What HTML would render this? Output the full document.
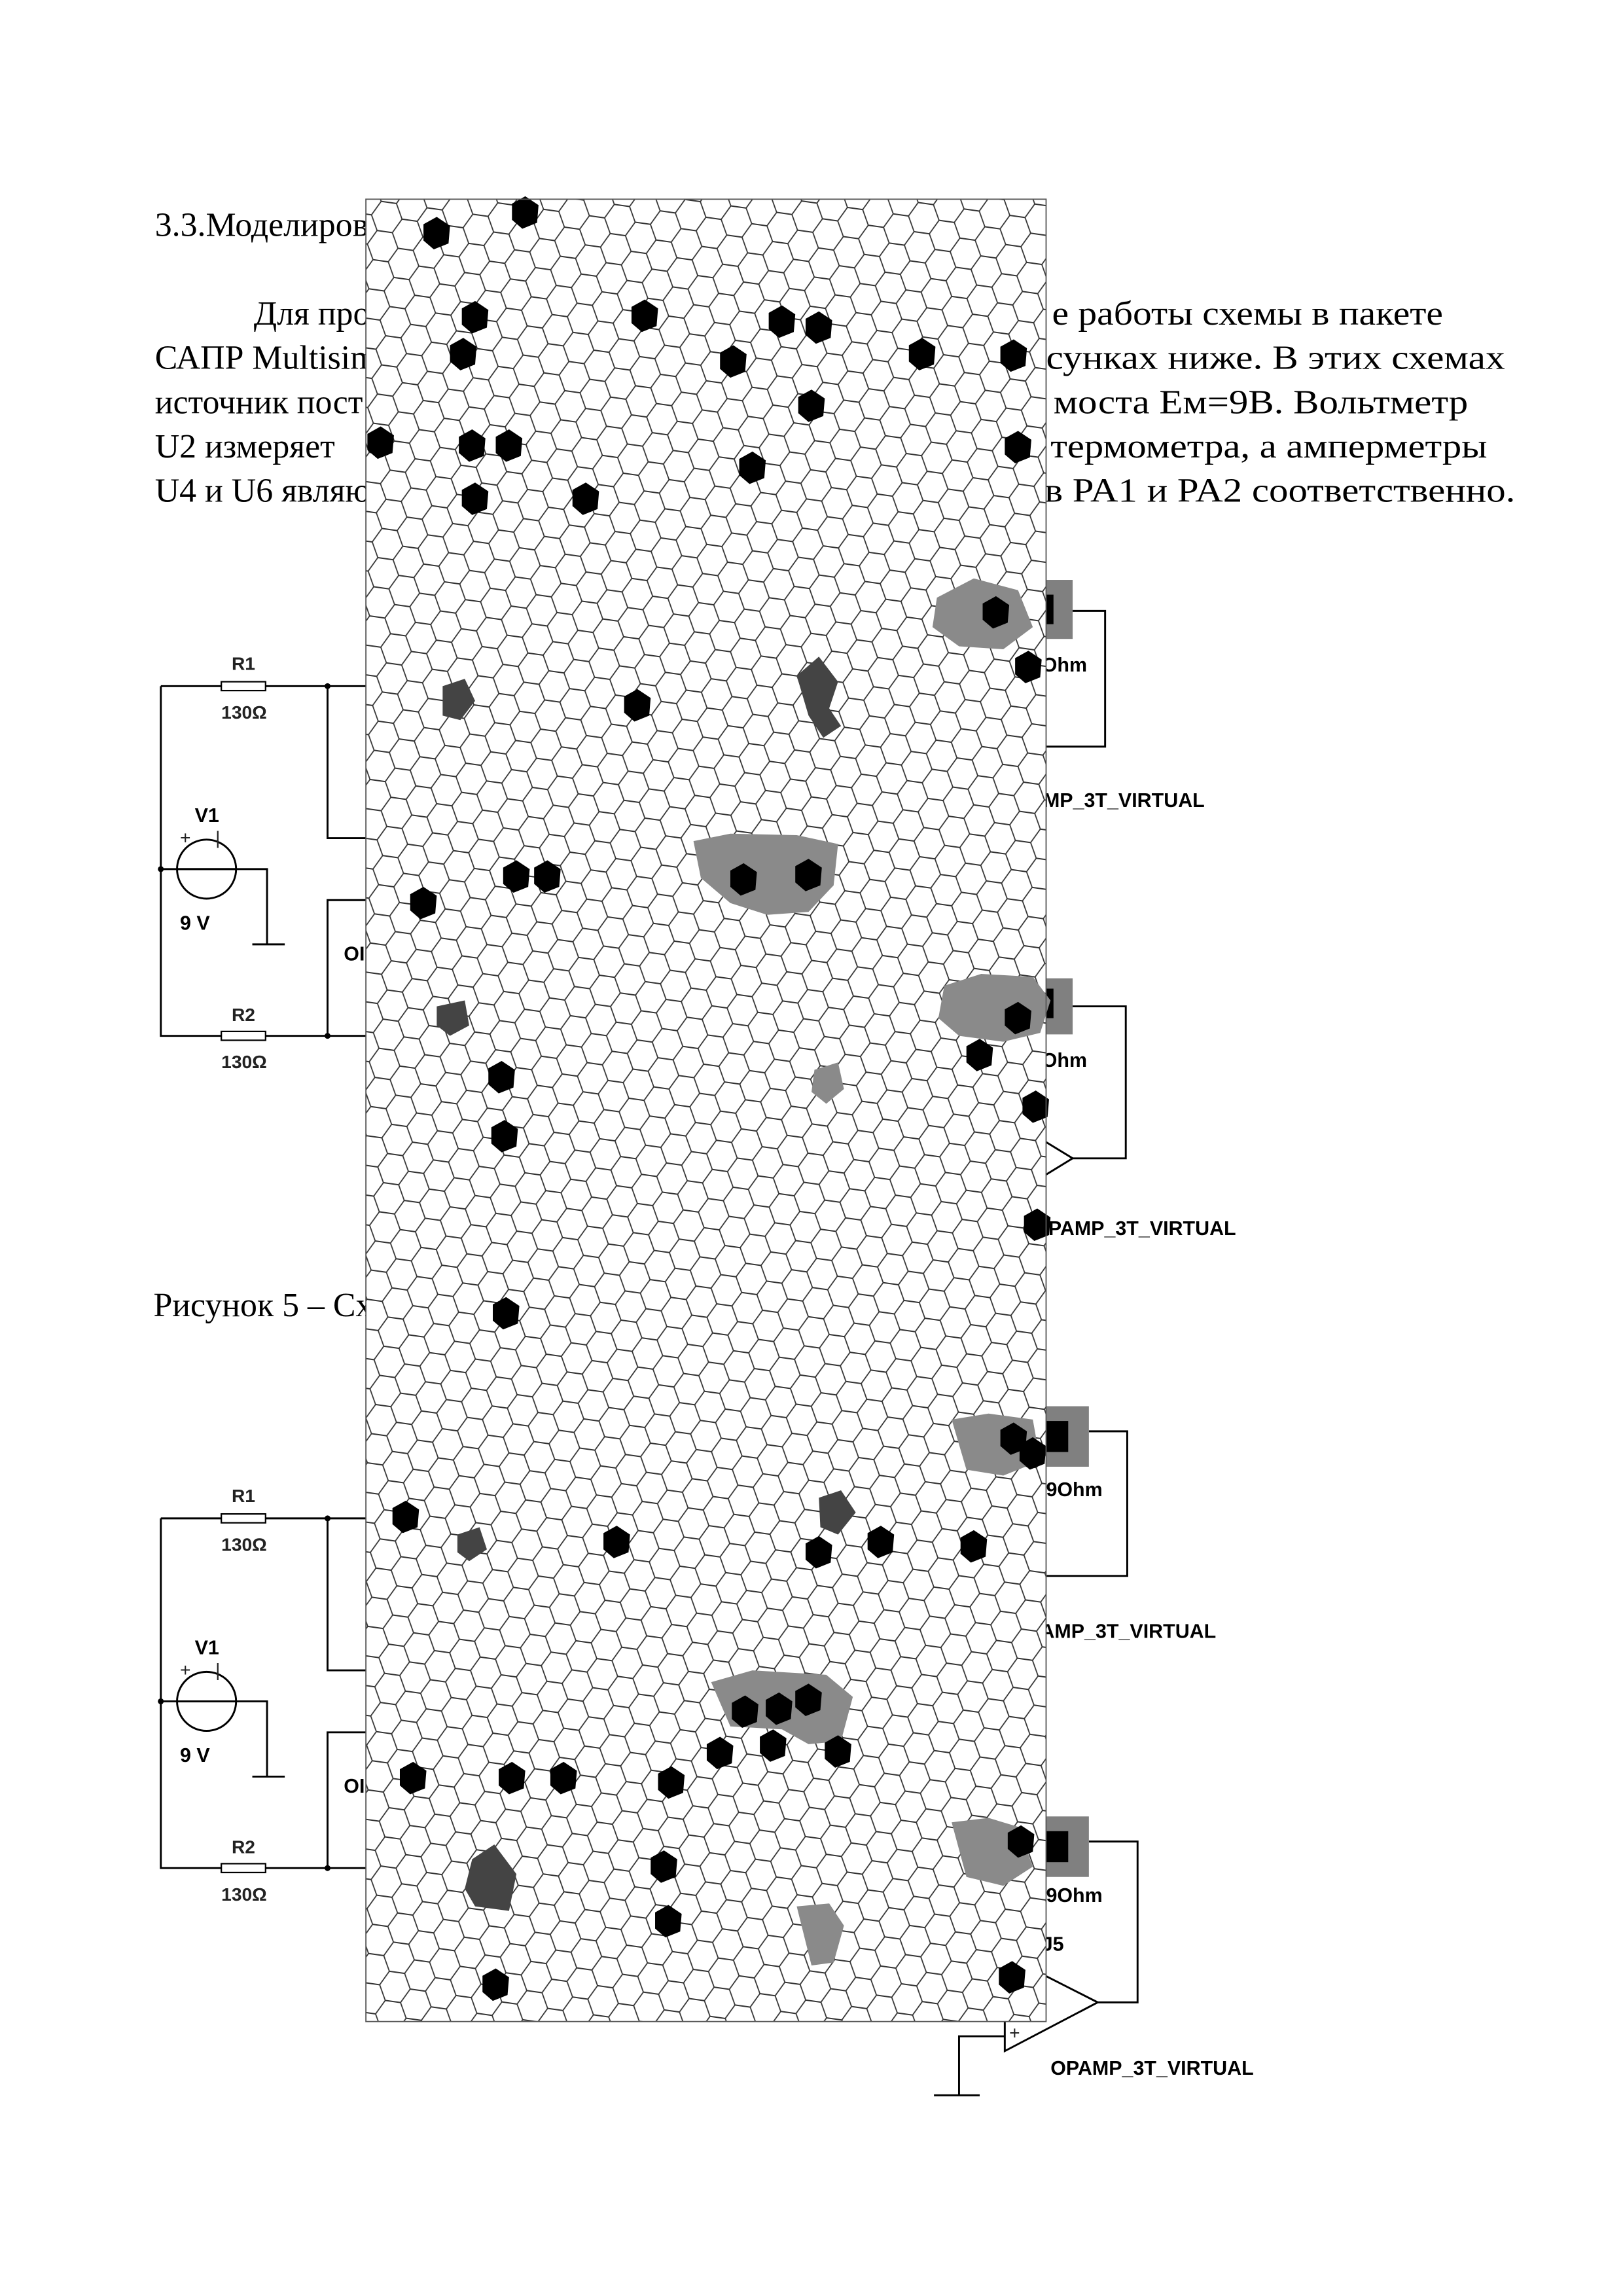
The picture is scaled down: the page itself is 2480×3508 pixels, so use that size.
<!DOCTYPE html>
<html><head><meta charset="utf-8"><style>
html,body{margin:0;padding:0;background:#fff;}
svg{display:block;}
.t{font-family:"Liberation Serif","DejaVu Serif",serif;font-size:23px;fill:#000;}
.c{font-family:"Liberation Sans","DejaVu Sans",sans-serif;font-weight:bold;font-size:13.5px;fill:#000;}
.cl{font-family:"Liberation Sans","DejaVu Sans",sans-serif;font-size:12.5px;fill:#222;}
.w{stroke:#000;stroke-width:1.3;fill:none;}
</style></head><body>
<svg width="2480" height="3508" viewBox="0 0 1100 1556" preserveAspectRatio="none" xmlns="http://www.w3.org/2000/svg">
<defs>
<pattern id="hex" width="33" height="19" patternUnits="userSpaceOnUse" patternTransform="translate(248,135) rotate(8) scale(0.95 1.05)">
<path d="M5.5,9.5 L11,0 L22,0 L27.5,9.5 L22,19 L11,19 Z M0,9.5 H5.5 M27.5,9.5 H33" fill="none" stroke="#333" stroke-width="0.8"/>
</pattern>
<polygon id="b" points="-9,-6 0,-11 9,-5 8,7 -2,11 -9,5"/>
</defs>
<rect width="1100" height="1556" fill="#fff"/>

<text class="t" x="105" y="160">3.3.Моделирование</text>
<text class="t" x="172" y="220">Для проведения</text>
<text class="t" x="105" y="250">САПР Multisim</text>
<text class="t" x="105" y="280">источник пост</text>
<text class="t" x="105" y="310">U2 измеряет</text>
<text class="t" x="105" y="340">U4 и U6 являются</text>
<text class="t" x="713" y="220" textLength="265" lengthAdjust="spacingAndGlyphs">е работы схемы в пакете</text>
<text class="t" x="709" y="250" textLength="311" lengthAdjust="spacingAndGlyphs">сунках ниже. В этих схемах</text>
<text class="t" x="714" y="280" textLength="281" lengthAdjust="spacingAndGlyphs">моста Eм=9В. Вольтметр</text>
<text class="t" x="712" y="310" textLength="296" lengthAdjust="spacingAndGlyphs">термометра, а амперметры</text>
<text class="t" x="708" y="340" textLength="319" lengthAdjust="spacingAndGlyphs">в PA1 и PA2 соответственно.</text>
<text class="t" x="104" y="892">Рисунок 5 – Схема</text>

<g id="lc">
<path class="w" d="M109,465 H150 M180,465 H248 M222,465 V568 H248 M109,465 V702 H150 M180,702 H248 M222,702 V610 H248 M109,589 H181 V640 M171,640 H193"/>
<rect x="150" y="462" width="30" height="6" fill="#fff" stroke="#000" stroke-width="1"/>
<rect x="150" y="699" width="30" height="6" fill="#fff" stroke="#000" stroke-width="1"/>
<ellipse cx="140" cy="589" rx="20" ry="20" fill="none" stroke="#000" stroke-width="1.3"/>
<line x1="120" y1="589" x2="160" y2="589" stroke="#000" stroke-width="1.3"/>
<circle cx="222" cy="465" r="2" fill="#000"/><circle cx="222" cy="702" r="2" fill="#000"/><circle cx="109" cy="589" r="2" fill="#000"/>
<text class="cl" x="157" y="454" font-weight="bold">R1</text>
<text class="cl" x="150" y="487" font-weight="bold">130Ω</text>
<text class="c" x="132" y="557">V1</text>
<text class="cl" x="122" y="572">+</text><text class="cl" x="146" y="572">|</text>
<text class="c" x="122" y="630">9 V</text>
<text class="cl" x="157" y="692" font-weight="bold">R2</text>
<text class="cl" x="150" y="724" font-weight="bold">130Ω</text>
<text class="c" x="233" y="651">OI</text>
</g>
<use href="#lc" transform="translate(0,564)"/>

<path class="w" d="M727,414 H749 V506 H709"/>
<rect x="704" y="393" width="23" height="40" fill="#808080"/><rect x="704" y="403" width="10" height="20" fill="#000"/>
<text class="c" x="706" y="455">Ohm</text>
<text class="c" x="707" y="547">MP_3T_VIRTUAL</text>

<path class="w" d="M727,682 H763 V785 H727 L709,774 M727,785 L709,796"/>
<rect x="704" y="663" width="23" height="38" fill="#808080"/><rect x="704" y="670" width="10" height="20" fill="#000"/>
<text class="c" x="706" y="723">Ohm</text>
<text class="c" x="700" y="837">OPAMP_3T_VIRTUAL</text>

<path class="w" d="M738,970 H764 V1068 H709"/>
<rect x="704" y="953" width="34" height="41" fill="#808080"/><rect x="704" y="963" width="20" height="21" fill="#000"/>
<text class="c" x="709" y="1014">9Ohm</text>
<text class="c" x="705" y="1110">AMP_3T_VIRTUAL</text>

<path class="w" d="M738,1248 H771 V1357 H744 L681,1325 V1390 L744,1357 M681,1380 H650 V1420 M633,1420 H664"/>
<rect x="704" y="1231" width="34" height="41" fill="#808080"/><rect x="704" y="1241" width="20" height="21" fill="#000"/>
<text class="c" x="709" y="1289">9Ohm</text>
<text class="c" x="706" y="1322">J5</text>
<text class="cl" x="684" y="1382">+</text>
<text class="c" x="712" y="1406">OPAMP_3T_VIRTUAL</text>

<rect x="248" y="135" width="461" height="1235" fill="#fff"/>
<rect x="248" y="135" width="461" height="1235" fill="url(#hex)"/>
<g fill="#8a8a8a">
<polygon points="635,405 660,392 690,400 700,425 680,440 650,438 632,425"/>
<polygon points="470,570 495,565 540,566 568,572 565,600 548,618 520,620 495,612 475,595"/>
<polygon points="640,668 665,660 700,662 712,678 705,700 680,706 650,702 636,690"/>
<polygon points="645,962 670,958 700,962 705,990 680,1000 655,996"/>
<polygon points="482,1140 510,1132 560,1135 578,1150 570,1180 548,1182 530,1172 495,1170"/>
<polygon points="645,1235 670,1232 690,1238 700,1265 680,1278 655,1272"/>
<polygon points="540,1292 562,1290 572,1305 565,1330 550,1332"/>
<polygon points="552,725 568,720 572,738 560,748 550,740"/>
</g>
<g fill="#444">
<polygon points="540,458 555,445 568,462 562,480 570,492 558,500 548,485"/>
<polygon points="300,465 315,460 322,475 312,488 300,485"/>
<polygon points="296,682 315,678 318,695 305,702 296,695"/>
<polygon points="555,1015 570,1010 580,1025 568,1040 556,1035"/>
<polygon points="310,1040 325,1035 330,1050 318,1058 310,1052"/>
<polygon points="320,1260 335,1250 350,1270 345,1295 322,1292 315,1280"/>
</g>
<g fill="#000">
<use href="#b" x="296" y="158"/><use href="#b" x="356" y="144"/>
<use href="#b" x="322" y="215"/><use href="#b" x="314" y="240"/><use href="#b" x="437" y="214"/>
<use href="#b" x="497" y="245"/><use href="#b" x="530" y="218"/><use href="#b" x="555" y="222"/>
<use href="#b" x="625" y="240"/><use href="#b" x="687" y="241"/><use href="#b" x="550" y="275"/>
<use href="#b" x="258" y="300"/><use href="#b" x="320" y="302"/><use href="#b" x="345" y="302"/>
<use href="#b" x="510" y="317"/><use href="#b" x="690" y="303"/><use href="#b" x="322" y="338"/><use href="#b" x="397" y="338"/>
<use href="#b" x="432" y="478"/><use href="#b" x="675" y="415"/><use href="#b" x="697" y="452"/>
<use href="#b" x="350" y="594"/><use href="#b" x="371" y="594"/><use href="#b" x="287" y="612"/>
<use href="#b" x="504" y="596"/><use href="#b" x="548" y="593"/>
<use href="#b" x="340" y="730"/><use href="#b" x="342" y="770"/><use href="#b" x="664" y="715"/><use href="#b" x="702" y="750"/><use href="#b" x="690" y="690"/>
<use href="#b" x="703" y="830"/>
<use href="#b" x="343" y="890"/>
<use href="#b" x="687" y="975"/><use href="#b" x="700" y="985"/>
<use href="#b" x="275" y="1028"/><use href="#b" x="418" y="1045"/><use href="#b" x="555" y="1052"/>
<use href="#b" x="597" y="1045"/><use href="#b" x="660" y="1048"/>
<use href="#b" x="505" y="1160"/><use href="#b" x="528" y="1158"/><use href="#b" x="548" y="1152"/>
<use href="#b" x="488" y="1188"/><use href="#b" x="524" y="1183"/><use href="#b" x="568" y="1187"/>
<use href="#b" x="280" y="1205"/><use href="#b" x="347" y="1205"/><use href="#b" x="382" y="1205"/><use href="#b" x="455" y="1208"/>
<use href="#b" x="450" y="1265"/><use href="#b" x="453" y="1302"/><use href="#b" x="336" y="1345"/><use href="#b" x="686" y="1340"/>
<use href="#b" x="692" y="1248"/>
</g>
<rect x="248" y="135" width="461" height="1235" fill="none" stroke="#555" stroke-width="0.8"/>
</svg>
</body></html>
